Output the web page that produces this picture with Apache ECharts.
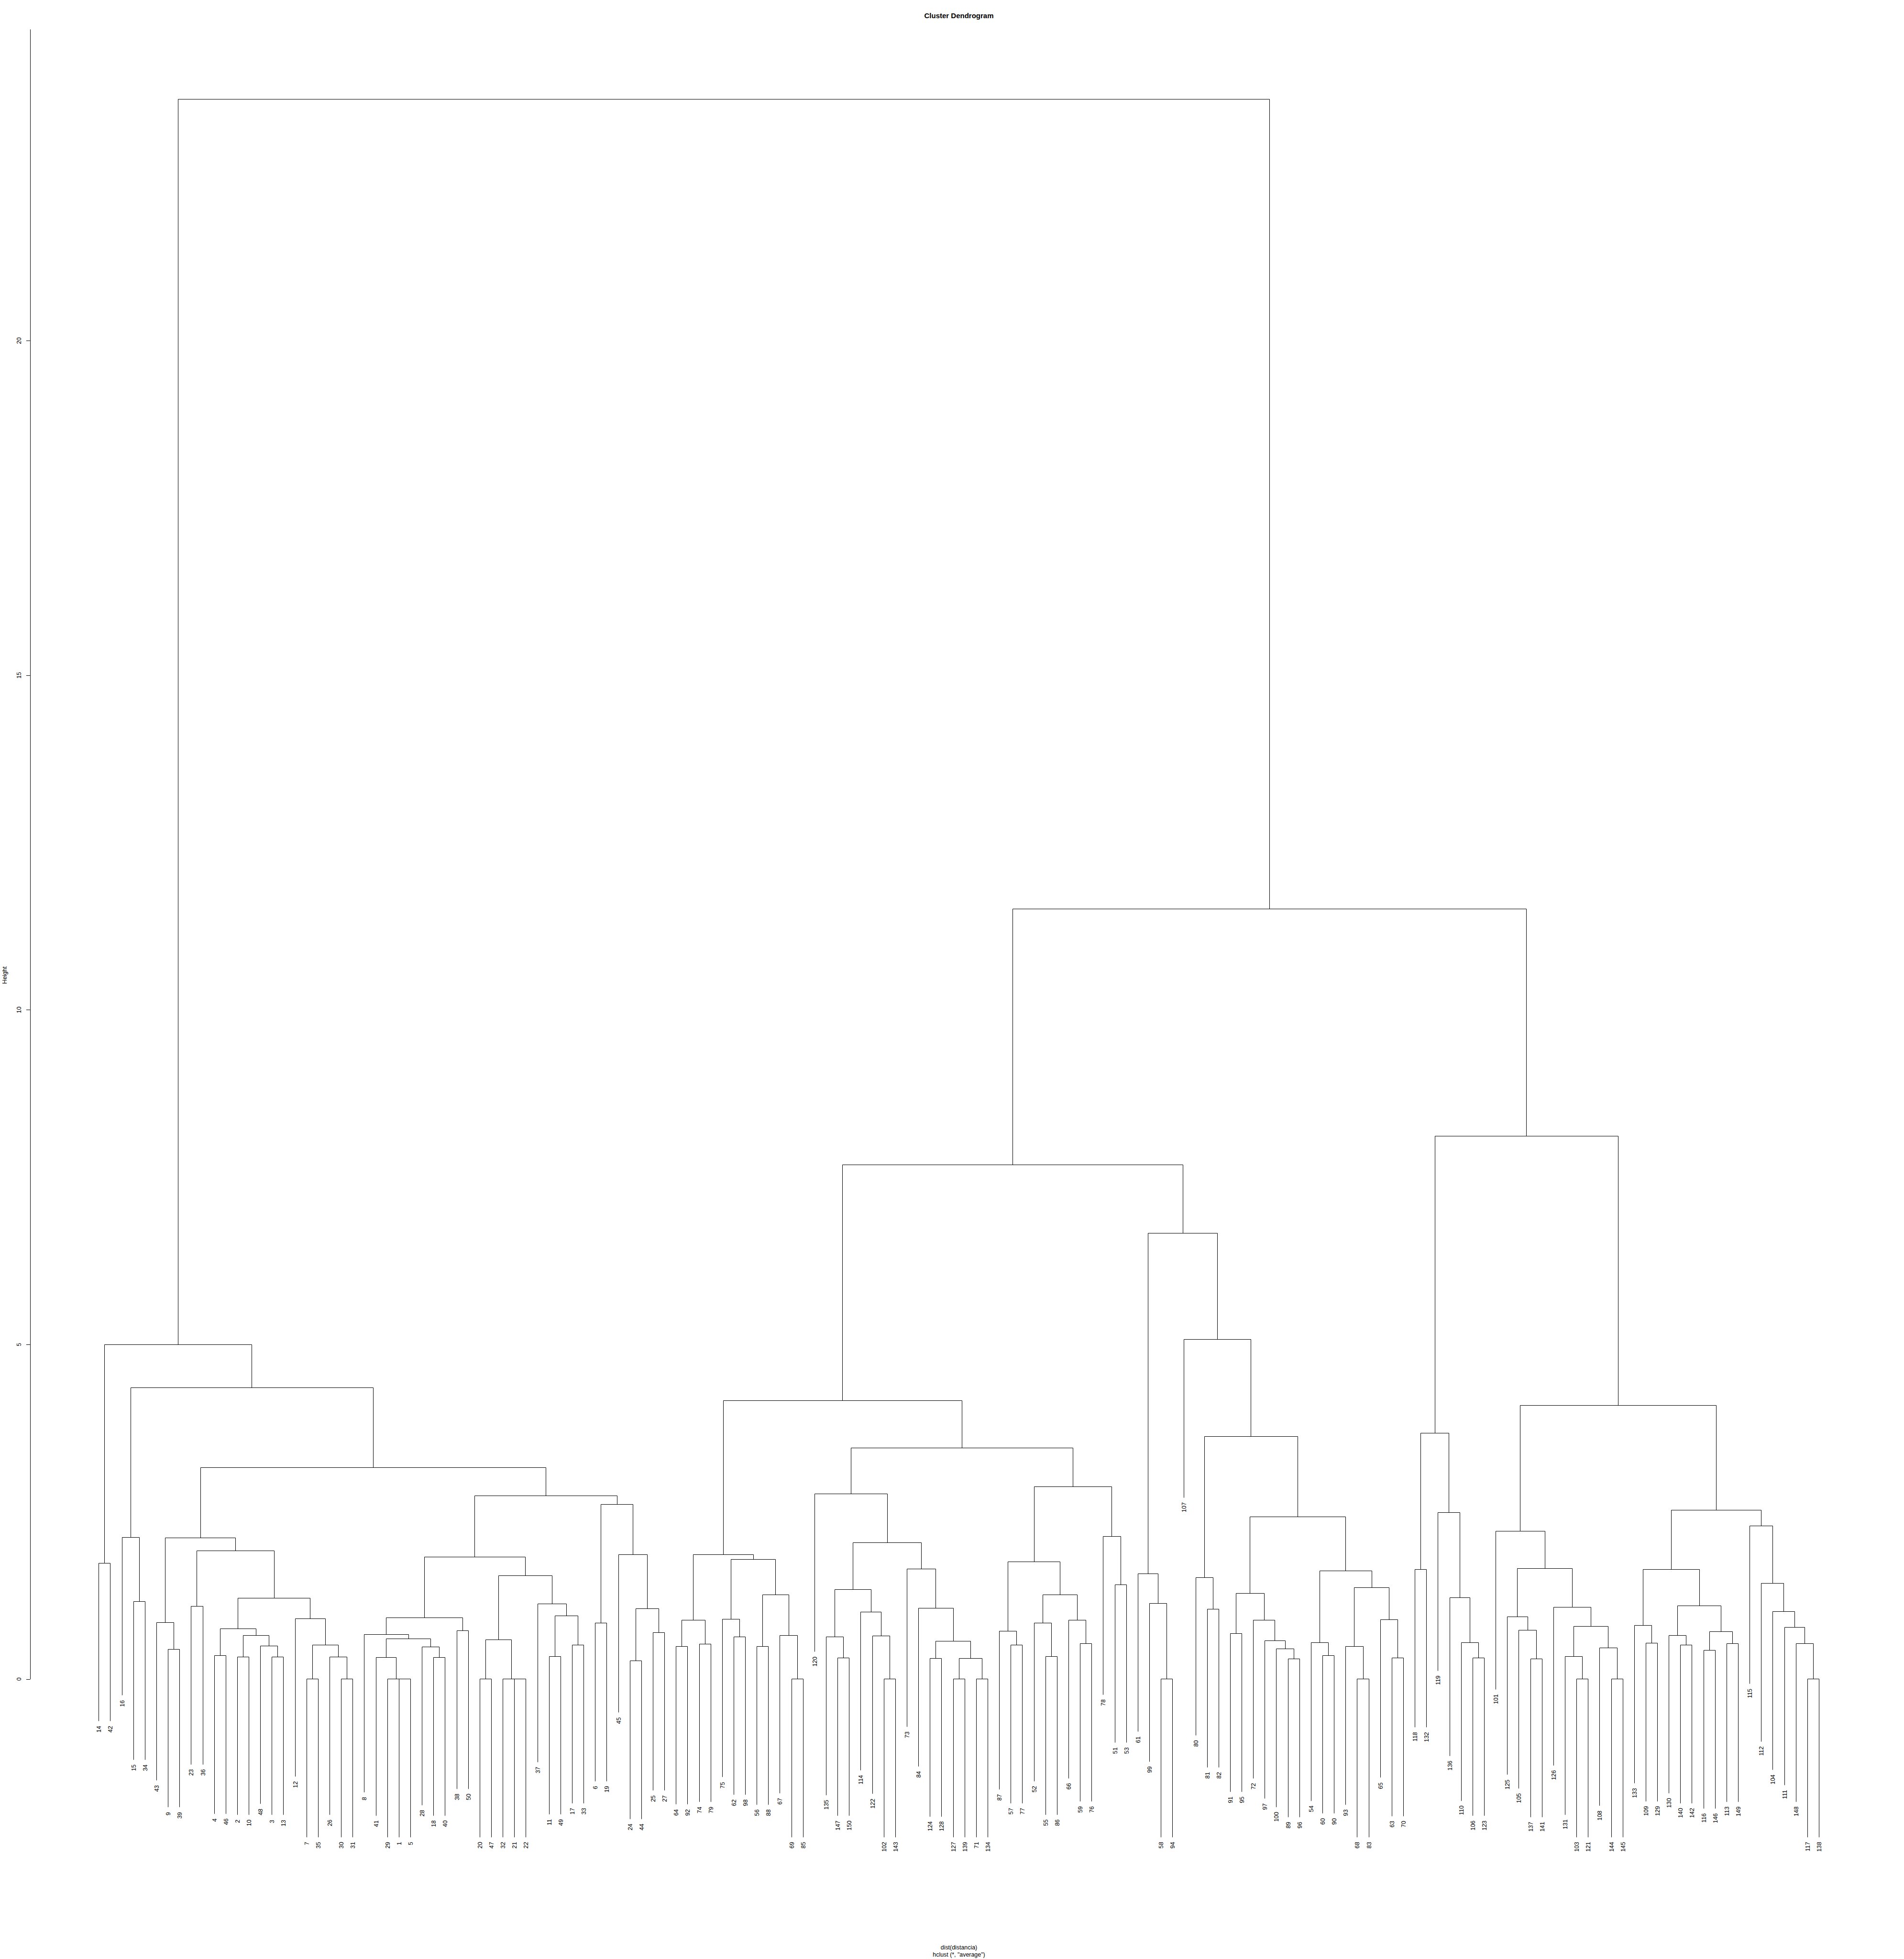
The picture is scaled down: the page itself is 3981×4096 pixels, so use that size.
<!DOCTYPE html>
<html>
<head>
<meta charset="utf-8">
<script src="https://cdn.jsdelivr.net/npm/echarts@6.0.0/dist/echarts.min.js"></script>
<style>
html,body{margin:0;padding:0;background:#ffffff;}
#chart{width:3981px;height:4096px;}
</style>
</head>
<body>
<div id="chart"></div>
<script>
// ---- data ----
const titleText = 'Cluster Dendrogram';
const xLabelLines = ['dist(distancia)', 'hclust (*, "average")'];
const yLabelText = 'Height';
const yTicks = [0, 5, 10, 15, 20];

// leaf order, left to right
const leafOrder = [14,42,16,15,34,43,9,39,23,36,4,46,2,10,48,3,13,12,7,35,26,30,31,8,41,29,1,5,28,18,40,38,50,20,47,32,21,22,37,11,49,17,33,6,19,45,24,44,25,27,
64,92,74,79,75,62,98,56,88,67,69,85,120,135,147,150,114,122,102,143,73,84,124,128,127,139,71,134,87,57,77,52,55,86,66,59,76,78,51,53,61,99,58,94,107,80,81,82,91,95,72,97,100,89,96,54,60,90,93,68,83,65,63,70,118,132,119,136,110,106,123,101,125,105,137,141,126,131,103,121,108,144,145,133,109,129,130,140,142,116,146,113,149,115,112,104,111,148,117,138];

// merges: [left, right, height]; negative = leaf label, positive = earlier merge number (1-based)
const merges = [
[-14,-42,1.733],[-15,-34,1.157],[-16,2,2.117],[-9,-39,0.446],[-43,4,0.848],
[-23,-36,1.087],[-4,-46,0.351],[-2,-10,0.333],[-3,-13,0.33],[-48,9,0.496],
[8,10,0.652],[7,11,0.75],[-7,-35,0],[-30,-31,0],[-26,14,0.333],
[13,15,0.511],[-12,16,0.906],[12,17,1.21],[6,18,1.92],[5,19,2.109],
[-1,-5,0],[-29,21,0],[-41,22,0.322],[-18,-40,0.322],[-28,24,0.478],
[23,25,0.605],[-8,26,0.67],[-38,-50,0.721],[27,28,0.917],[-20,-47,0],
[-21,-22,0],[-32,31,0],[30,32,0.59],[-11,-49,0.34],[-17,-33,0.507],
[34,35,0.942],[-37,36,1.123],[33,37,1.547],[29,38,1.822],[-6,-19,0.837],
[-24,-44,0.272],[-25,-27,0.696],[41,42,1.054],[-45,43,1.862],[40,44,2.61],
[39,45,2.736],[20,46,3.16],[3,47,4.357],[1,48,4.997],
[-64,-92,0.489],[-74,-79,0.525],[50,51,0.88],[-62,-98,0.634],[-75,53,0.895],
[-56,-88,0.486],[-69,-85,0],[-67,56,0.656],[55,57,1.257],[54,58,1.786],
[52,59,1.862],
[-147,-150,0.319],[-135,61,0.63],[-102,-143,0],[-122,63,0.645],[-114,64,1.0],
[62,65,1.34],[-124,-128,0.308],[-127,-139,0],[-71,-134,0],[68,69,0.312],
[67,70,0.565],[-84,71,1.058],[-73,72,1.649],[66,73,2.04],[-120,74,2.768],
[-57,-77,0.507],[-87,76,0.714],[-55,-86,0.337],[-52,78,0.837],[-59,-76,0.533],
[-66,80,0.88],[79,81,1.257],[77,82,1.754],[-51,-53,1.413],[-78,84,2.13],
[83,85,2.873],[75,86,3.451],[60,87,4.159],
[-58,-94,0],[-99,89,1.13],[-61,90,1.576],[-81,-82,1.043],[-80,92,1.52],
[-91,-95,0.678],[-89,-96,0.3],[-100,95,0.449],[-97,96,0.576],[-72,97,0.88],
[94,98,1.279],[-60,-90,0.355],[-54,100,0.543],[-68,-83,0],[-93,102,0.486],
[-63,-70,0.315],[-65,104,0.888],[103,105,1.366],[101,106,1.62],[99,107,2.424],
[93,108,3.625],[-107,109,5.074],[91,110,6.66],[88,111,7.685],
[-118,-132,1.641],[-106,-123,0.319],[-110,114,0.543],[-136,115,1.214],[-119,116,2.486],
[113,117,3.673],[-137,-141,0.3],[-105,119,0.728],[-125,120,0.931],[-103,-121,0],
[-131,122,0.337],[-144,-145,0],[-108,124,0.467],[123,125,0.79],[-126,126,1.072],
[121,127,1.656],[-101,128,2.207],[-109,-129,0.536],[-133,130,0.804],[-140,-142,0.507],
[-130,132,0.656],[-116,-146,0.428],[-113,-149,0.529],[134,135,0.707],[133,136,1.098],
[131,137,1.641],[-117,-138,0],[-148,139,0.529],[-111,140,0.775],[-104,141,1.007],
[-112,142,1.428],[-115,143,2.29],[138,144,2.522],[129,145,4.09],[118,146,8.113],
[112,147,11.51],[49,148,23.61]
];

// ---- build drawing data from the tree (R plot.hclust conventions) ----
const nLeaves = leafOrder.length;
const leafPos = {};
leafOrder.forEach((lab, i) => { leafPos[lab] = i + 1; });
const maxH = Math.max.apply(null, merges.map(m => m[2]));
const hang = 0.1 * maxH;
const nodeInfo = [];
const segData = [];
const leafData = [];
merges.forEach((m, k) => {
  const h = m[2];
  const kids = [m[0], m[1]].map(c => {
    if (c < 0) {
      const x = leafPos[-c];
      leafData.push([x, h - hang, String(-c)]);
      return { x: x, y: h - hang };
    }
    const n = nodeInfo[c - 1];
    return { x: n.x, y: n.h };
  });
  nodeInfo[k] = { x: (kids[0].x + kids[1].x) / 2, h: h };
  segData.push([kids[0].x, kids[0].y, kids[1].x, kids[1].y, h]);
});
const xMin = 1 - 0.04 * (nLeaves - 1);
const xMax = nLeaves + 0.04 * (nLeaves - 1);
const yMax = maxH + 0.04 * (maxH + hang);

const FONT = '"Liberation Sans", Arial, Helvetica, sans-serif';
const crisp = v => Math.round(v - 0.5) + 0.5;

const chart = echarts.init(document.getElementById('chart'), null, { renderer: 'svg', width: 3981, height: 4096 });
chart.setOption({
  animation: false,
  backgroundColor: '#ffffff',
  grid: { left: 62.9, right: 33.6, top: 61.9, bottom: 585.2, containLabel: false, outerBoundsMode: 'none' },
  xAxis: { type: 'value', min: xMin, max: xMax, show: false },
  yAxis: {
    type: 'value', min: 0, max: yMax,
    axisLine: { show: true, onZero: false, lineStyle: { color: '#000', width: 1 } },
    axisTick: { show: true, inside: false, length: 8, customValues: yTicks, lineStyle: { color: '#000', width: 1 } },
    axisLabel: { show: true, customValues: yTicks, rotate: 90, margin: 17, fontSize: 12.4, fontFamily: FONT, color: '#000' },
    splitLine: { show: false }
  },
  graphic: [
    { type: 'text', x: 2005, y: 32.2, style: { text: titleText, font: 'bold 15px ' + FONT, fill: '#000', align: 'center', verticalAlign: 'middle', textAlign: 'center', textVerticalAlign: 'middle' } },
    { type: 'text', x: 2005, y: 4071.8, style: { text: xLabelLines[0], font: '12.4px ' + FONT, fill: '#000', align: 'center', verticalAlign: 'middle', textAlign: 'center', textVerticalAlign: 'middle' } },
    { type: 'text', x: 2005, y: 4086.6, style: { text: xLabelLines[1], font: '12.4px ' + FONT, fill: '#000', align: 'center', verticalAlign: 'middle', textAlign: 'center', textVerticalAlign: 'middle' } },
    { type: 'text', x: 10, y: 2039, rotation: Math.PI / 2, style: { text: yLabelText, font: '12.6px ' + FONT, fill: '#000', align: 'center', verticalAlign: 'middle', textAlign: 'center', textVerticalAlign: 'middle' } }
  ],
  series: [
    {
      type: 'custom', name: 'branches', coordinateSystem: 'cartesian2d', clip: false, silent: true,
      data: segData,
      renderItem: function (params, api) {
        const a = api.coord([api.value(0), api.value(1)]);
        const b = api.coord([api.value(0), api.value(4)]);
        const c = api.coord([api.value(2), api.value(4)]);
        const d = api.coord([api.value(2), api.value(3)]);
        const pts = [a, b, c, d].map(p => [crisp(p[0]), crisp(p[1])]);
        return { type: 'polyline', shape: { points: pts }, style: { stroke: '#000', lineWidth: 1, fill: null } };
      }
    },
    {
      type: 'custom', name: 'labels', coordinateSystem: 'cartesian2d', clip: false, silent: true,
      data: leafData.map(d => [d[0], d[1]]),
      renderItem: function (params, api) {
        const p = api.coord([api.value(0), api.value(1)]);
        return {
          type: 'text', x: crisp(p[0]), y: p[1] + 10, rotation: Math.PI / 2,
          style: { text: leafData[params.dataIndex][2], font: '12.4px ' + FONT, fill: '#000', align: 'right', verticalAlign: 'middle', textAlign: 'right', textVerticalAlign: 'middle' }
        };
      }
    }
  ]
});
</script>
</body>
</html>
